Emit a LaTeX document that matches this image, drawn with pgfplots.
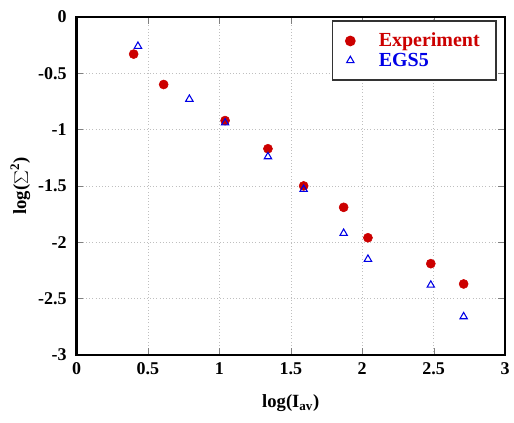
\documentclass[border=0pt]{standalone}
\usepackage{pgfplots}
\pgfplotsset{compat=1.18}
\usepackage{fontspec}
\setmainfont{Liberation Serif}
\definecolor{expred}{RGB}{204,0,0}
\definecolor{egsblue}{RGB}{0,0,230}
\begin{document}
\begin{tikzpicture}
\begin{axis}[
  scale only axis, width=322pt, height=254pt,
  xmin=0, xmax=3, ymin=-3, ymax=0,
  xtick={0,0.5,...,3}, ytick={-3,-2.5,...,0},
  tick align=inside, major tick length=5pt,
  axis line style={line width=2pt},
  grid=major, major grid style={gray!50, dotted},
  /pgf/number format/assume math mode=true,
  tick label style={font=\fontsize{13.5}{15}\selectfont\bfseries},
  xticklabel style={yshift=-2pt},
  yticklabel style={xshift=-4pt},
  label style={font=\fontsize{14}{16}\selectfont\bfseries},
  xlabel={log(I$_{\mathbf{av}}$)},
  ylabel={log($\textstyle\sum^{\mathbf{2}}$)},
  xlabel style={yshift=-8pt},
  ylabel style={yshift=-1pt},
  legend style={at={(0.98,0.99)}, anchor=north east, draw=black!80, line width=1.2pt,
    font=\fontsize{15}{17}\selectfont\bfseries, row sep=-1pt, inner xsep=10pt, inner ysep=7pt,
    /tikz/every odd column/.append style={column sep=16pt}},
  legend cell align=left,
]
\addplot[only marks, mark=*, mark size=3.4pt, color=expred] coordinates {
  (0.40,-0.33) (0.61,-0.60) (1.04,-0.92) (1.34,-1.17) (1.59,-1.50)
  (1.87,-1.69) (2.04,-1.96) (2.48,-2.19) (2.71,-2.37)};
\addlegendentry{\textcolor{expred}{Experiment}}
\addplot[only marks, mark=triangle, mark size=3.2pt, color=egsblue, mark options={line width=0.8pt}] coordinates {
  (0.43,-0.26) (0.79,-0.73) (1.04,-0.94) (1.34,-1.24) (1.59,-1.53)
  (1.87,-1.92) (2.04,-2.15) (2.48,-2.38) (2.71,-2.66)};
\addlegendentry{\textcolor{egsblue}{EGS5}}
\end{axis}
\path ([shift={(-57.5pt,-51pt)}]current axis.south west) ([shift={(6pt,12.7pt)}]current axis.north east);
\end{tikzpicture}
\end{document}
